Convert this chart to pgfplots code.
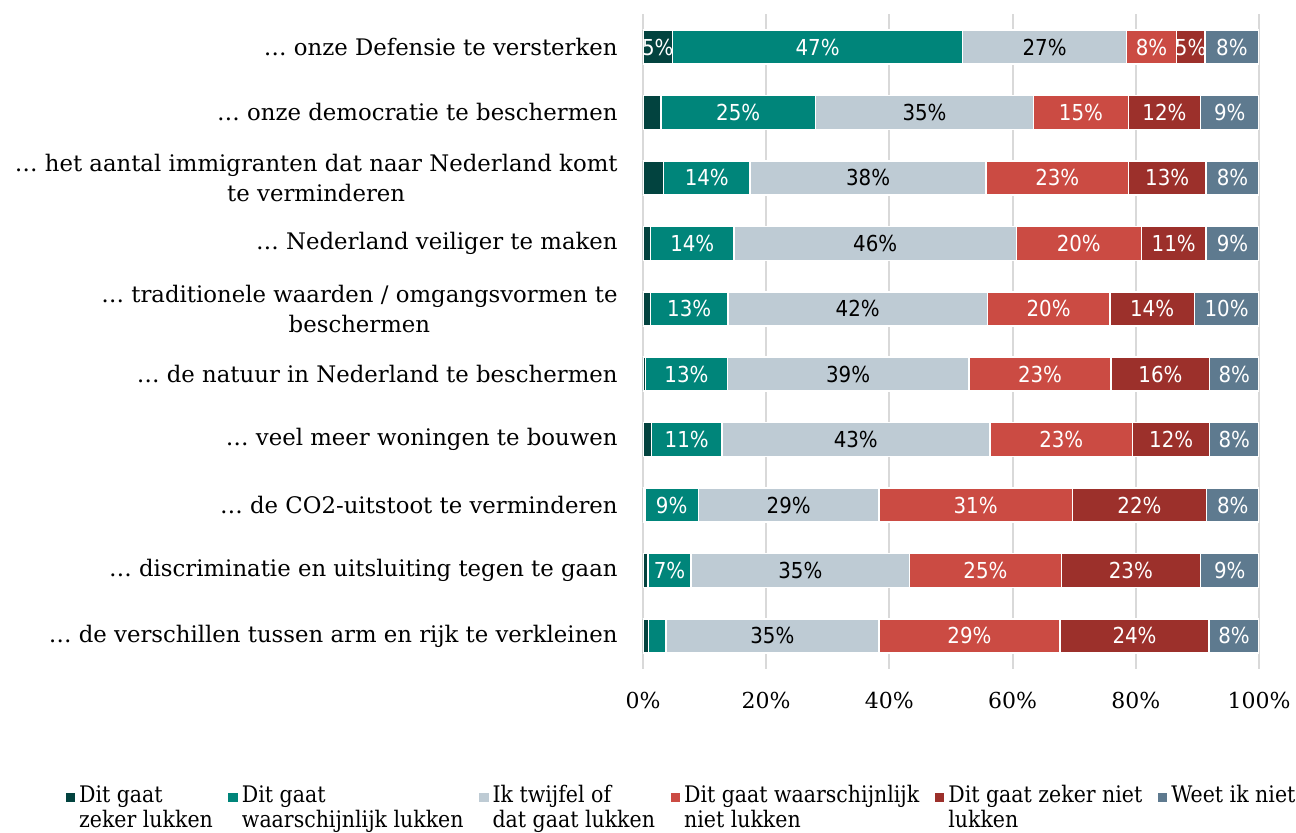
\documentclass[border=0pt]{standalone}
\usepackage{pgfplots}
\pgfplotsset{compat=1.18}
\usepackage{pgfplotstable}
\usepackage{fontspec}
\setmainfont{DejaVu Serif}
\newfontfamily\barfont{DejaVu Sans Condensed}
\newfontfamily\legfont{DejaVu Serif Condensed}
\definecolor{cA}{HTML}{02433F}
\definecolor{cB}{HTML}{00857A}
\definecolor{cC}{HTML}{BECBD4}
\definecolor{cD}{HTML}{CB4B43}
\definecolor{cE}{HTML}{9C302B}
\definecolor{cF}{HTML}{5E7A8F}
\definecolor{gridgray}{HTML}{D9D9D9}

% y: 10 = top row (Defensie), 1 = bottom row (arm en rijk)
\pgfplotstableread{
y x lab
10 4.8 5\%
9 2.9 {}
8 3.3 {}
7 1.2 {}
6 1.2 {}
5 0.4 {}
4 1.4 {}
3 0.3 {}
2 0.8 {}
1 0.9 {}
}\tA
\pgfplotstableread{
y x lab
10 47.1 47\%
9 25.1 25\%
8 14.1 14\%
7 13.6 14\%
6 12.6 13\%
5 13.3 13\%
4 11.4 11\%
3 8.7 9\%
2 7.0 7\%
1 2.8 {}
}\tB
\pgfplotstableread{
y x lab
10 26.6 27\%
9 35.4 35\%
8 38.3 38\%
7 45.8 46\%
6 42.1 42\%
5 39.2 39\%
4 43.5 43\%
3 29.3 29\%
2 35.5 35\%
1 34.6 35\%
}\tC
\pgfplotstableread{
y x lab
10 8.1 8\%
9 15.4 15\%
8 23.1 23\%
7 20.3 20\%
6 19.9 20\%
5 23.1 23\%
4 23.2 23\%
3 31.4 31\%
2 24.6 25\%
1 29.4 29\%
}\tD
\pgfplotstableread{
y x lab
10 4.6 5\%
9 11.7 12\%
8 12.6 13\%
7 10.5 11\%
6 13.7 14\%
5 16.0 16\%
4 12.5 12\%
3 21.8 22\%
2 22.6 23\%
1 24.2 24\%
}\tE
\pgfplotstableread{
y x lab
10 8.8 8\%
9 9.5 9\%
8 8.6 8\%
7 8.6 9\%
6 10.5 10\%
5 8.0 8\%
4 8.0 8\%
3 8.5 8\%
2 9.5 9\%
1 8.1 8\%
}\tF

\begin{document}
\begin{tikzpicture}
\useasboundingbox (-321.5pt,-81.65pt) rectangle (326.5pt,334.35pt);
\begin{axis}[
  at={(0,0)}, anchor=south west,
  scale only axis, width=308pt, height=327.2pt,
  xbar stacked, bar width=0.52,
  xmin=0, xmax=100, ymin=0.5, ymax=10.5, enlargelimits=false,
  xtick={0,20,40,60,80,100},
  xticklabels={0\%,20\%,40\%,60\%,80\%,100\%},
  xmajorgrids, major grid style={draw=gridgray, line width=1pt},
  ytick={1,...,10},
  yticklabels={
    {… de verschillen tussen arm en rijk te verkleinen},
    {… discriminatie en uitsluiting tegen te gaan},
    {… de CO2-uitstoot te verminderen},
    {… veel meer woningen te bouwen},
    {… de natuur in Nederland te beschermen},
    {… traditionele waarden / omgangsvormen te\\beschermen},
    {… Nederland veiliger te maken},
    {… het aantal immigranten dat naar Nederland komt\\te verminderen},
    {… onze democratie te beschermen},
    {… onze Defensie te versterken}},
  axis line style={draw=none}, major tick length=0pt,
  xticklabel style={font=\fontsize{11}{13}\selectfont, inner sep=0pt, anchor=north, yshift=-11.5pt},
  yticklabel style={font=\fontsize{11.4}{15}\selectfont, align=center, inner sep=0pt, anchor=east, xshift=-12.5pt},
  point meta=explicit symbolic,
  nodes near coords,
  every node near coord/.append style={anchor=center, font=\barfont\fontsize{11}{12}\selectfont, text=white, inner sep=0pt},
  legend columns=6,
  legend style={at={(-0.938,-0.172)}, anchor=north west, draw=none, fill=none, inner sep=0pt,
    font=\legfont\fontsize{11.4}{12.5}\selectfont,
    cells={align=left, anchor=base west},
    /tikz/every even column/.append style={column sep=5.8pt}},
]
\addplot[fill=cA, draw=white, line width=0.75pt, legend image code/.code={\fill[cA] (0pt,13.2pt) rectangle (4pt,17.2pt);}] table[x=x, y=y, meta=lab]{\tA};
\addplot[fill=cB, draw=white, line width=0.75pt, legend image code/.code={\fill[cB] (0pt,13.2pt) rectangle (4pt,17.2pt);}] table[x=x, y=y, meta=lab]{\tB};
\addplot[fill=cC, draw=white, line width=0.75pt, every node near coord/.append style={text=black}, legend image code/.code={\fill[cC] (0pt,13.2pt) rectangle (4pt,17.2pt);}] table[x=x, y=y, meta=lab]{\tC};
\addplot[fill=cD, draw=white, line width=0.75pt, legend image code/.code={\fill[cD] (0pt,13.2pt) rectangle (4pt,17.2pt);}] table[x=x, y=y, meta=lab]{\tD};
\addplot[fill=cE, draw=white, line width=0.75pt, legend image code/.code={\fill[cE] (0pt,13.2pt) rectangle (4pt,17.2pt);}] table[x=x, y=y, meta=lab]{\tE};
\addplot[fill=cF, draw=white, line width=0.75pt, legend image code/.code={\fill[cF] (0pt,13.2pt) rectangle (4pt,17.2pt);}] table[x=x, y=y, meta=lab]{\tF};
\legend{{Dit gaat\\zeker lukken},{Dit gaat\\waarschijnlijk lukken},{Ik twijfel of\\dat gaat lukken},{Dit gaat waarschijnlijk\\niet lukken},{Dit gaat zeker niet\\lukken},{Weet ik niet\\\mbox{}}}
\end{axis}
\end{tikzpicture}
\end{document}
